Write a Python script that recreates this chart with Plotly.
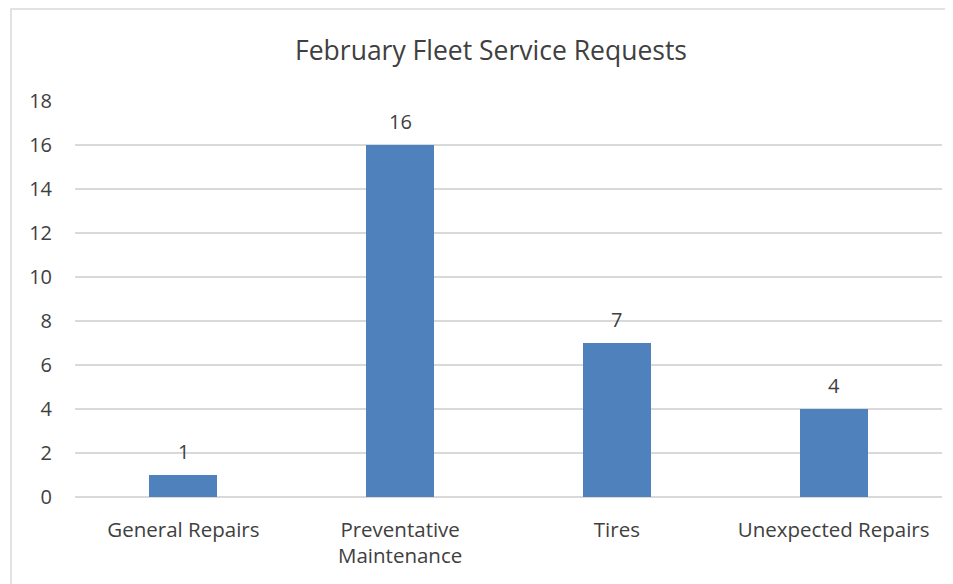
import plotly.graph_objects as go

categories = ["General Repairs", "Preventative<br>Maintenance", "Tires", "Unexpected Repairs"]
requests = [1, 16, 7, 4]
y_ticks = [0, 2, 4, 6, 8, 10, 12, 14, 16, 18]

FONT = "Open Sans, Carlito, Calibri, sans-serif"
TEXT = "#404040"

# page body has an 8px margin, so the figure is sized to fit the window
W, H = 945, 576

fig = go.Figure()
fig.add_bar(
    x=categories,
    y=requests,
    marker=dict(color="#4F81BD", line=dict(width=0)),
    width=0.314,
)

# value labels above the bars
for cat, val in zip(categories, requests):
    fig.add_annotation(
        x=cat,
        y=val,
        text=str(val),
        showarrow=False,
        yanchor="bottom",
        yshift=8,
        font=dict(size=20, color=TEXT, family=FONT),
    )

fig.update_layout(
    width=W,
    height=H,
    margin=dict(t=93, b=87, l=67, r=11),
    paper_bgcolor="white",
    plot_bgcolor="white",
    font=dict(family=FONT, color=TEXT, size=20),
    title=dict(
        text="February Fleet Service Requests",
        x=483 / W,
        xanchor="center",
        y=1 - 43 / H,
        yanchor="middle",
        font=dict(size=26.5, color=TEXT, family=FONT),
    ),
    showlegend=False,
    bargap=0,
    xaxis=dict(
        showgrid=False,
        showline=False,
        ticks="",
        tickfont=dict(size=20.5, color=TEXT),
        ticklabelstandoff=18,
    ),
    yaxis=dict(
        range=[0, 18],
        tickvals=y_ticks,
        showgrid=True,
        gridcolor="#D9D9D9",
        gridwidth=1.5,
        zeroline=True,
        zerolinecolor="#D9D9D9",
        zerolinewidth=1.5,
        showline=False,
        ticks="",
        tickfont=dict(size=20, color=TEXT),
        ticklabelstandoff=22,
    ),
    shapes=[
        dict(
            type="rect",
            xref="paper",
            yref="paper",
            x0=-64 / 867,
            x1=1.2,
            y0=-0.5,
            y1=1 + 92 / 396,
            line=dict(color="#D9D9D9", width=1.5),
            fillcolor="rgba(0,0,0,0)",
            layer="below",
        )
    ],
)

fig.write_html("out.html")
